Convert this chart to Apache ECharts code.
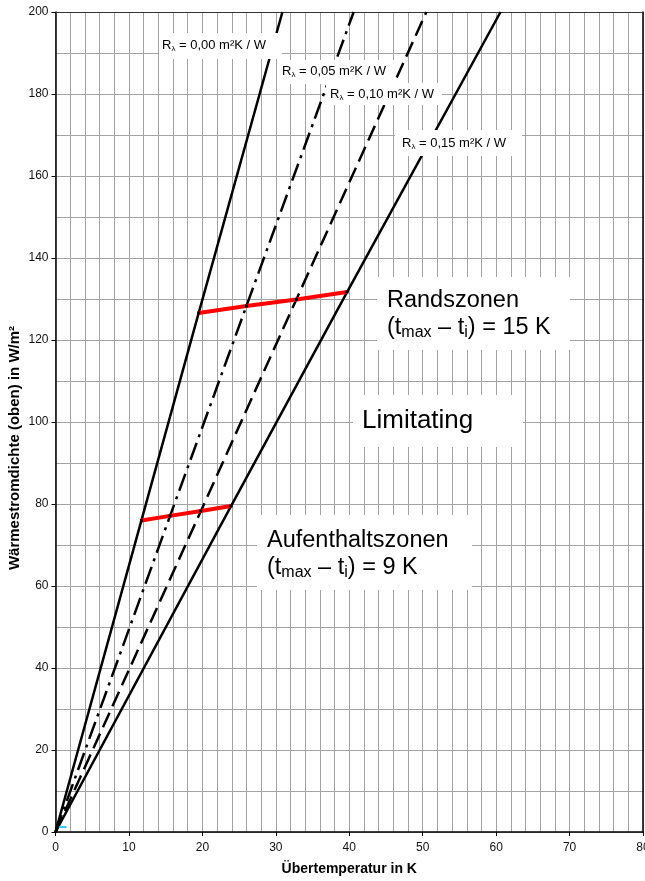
<!DOCTYPE html>
<html>
<head>
<meta charset="utf-8">
<title>Wärmestromdichte</title>
<script src="https://cdn.jsdelivr.net/npm/echarts@6/dist/echarts.min.js"></script>
<style>
  html, body { margin: 0; padding: 0; background: #fff; }
  #chart { width: 645px; height: 881px; }
</style>
</head>
<body>
<div id="chart"></div>
<script>
// Heat flux density vs. excess temperature for four floor covering resistances
const xTicks = [0, 10, 20, 30, 40, 50, 60, 70, 80];
const yTicks = [0, 20, 40, 60, 80, 100, 120, 140, 160, 180, 200];

// [Übertemperatur K, Wärmestromdichte W/m²]
const r000 = [[0, 0], [11.7, 76.0], [19.5, 126.6], [30.9, 200]];
const r005 = [[0, 0], [15.6, 77.1], [26.0, 128.3], [40.6, 200]];
const r010 = [[0, 0], [19.8, 78.3], [32.8, 129.9], [50.5, 200]];
const r015 = [[0, 0], [23.9, 79.5], [39.7, 131.7], [60.6, 200]];

// limit curves
const aufenthaltszonen = [[11.7, 76.0], [15.6, 77.1], [19.8, 78.3], [23.9, 79.5]];
const randszonen = [[19.5, 126.6], [26.0, 128.3], [32.8, 129.9], [39.7, 131.7]];

const startMark = [[0.5, 1.2], [1.5, 1.2]];

const FONT = '"Liberation Sans", Arial, sans-serif';

function blackLine(name, data, type) {
  return {
    name: name, type: 'line', data: data,
    showSymbol: false, symbol: 'none', animation: false, z: 3,
    lineStyle: { color: '#000', width: 2.5, type: type, cap: 'butt' }
  };
}

function redLine(name, data) {
  return {
    name: name, type: 'line', data: data, animation: false, z: 4,
    symbol: 'rect', symbolSize: 3, showSymbol: true,
    itemStyle: { color: '#000' },
    lineStyle: { color: '#ff0000', width: 4 }
  };
}

// label box: white rectangle plus (rich) text
function box(x, y, w, h, tx, ty, text, rich) {
  return {
    type: 'group', z: 100,
    children: [
      { type: 'rect', z: 100, shape: { x: x, y: y, width: w, height: h },
        style: { fill: '#fff', stroke: null } },
      { type: 'text', z: 101, x: tx, y: ty,
        style: { text: text, rich: rich, align: 'left', verticalAlign: 'middle', fontFamily: FONT } }
    ]
  };
}

const rRich = {
  r: { fontSize: 13, fontFamily: FONT, color: '#000', lineHeight: 15 },
  s: { fontSize: 8, fontFamily: FONT, color: '#000', lineHeight: 15, verticalAlign: 'bottom' }
};
const bigRich = {
  n: { fontSize: 23.5, fontFamily: FONT, color: '#ff0000', lineHeight: 27 },
  sub: { fontSize: 16, fontFamily: FONT, color: '#ff0000', lineHeight: 27, verticalAlign: 'bottom' }
};
const limRich = {
  n: { fontSize: 26, fontFamily: FONT, color: '#ff0000', lineHeight: 30 }
};

function rLabel(v) { return '{r|R}{s|λ}{r| = ' + v + ' m²K / W}'; }
function zoneLabel(name, k) {
  return '{n|' + name + '}\n{n|(t}{sub|max}{n| – t}{sub|i}{n|) = ' + k + ' K}';
}

const gridColor = '#a3a3a3';

const option = {
  backgroundColor: '#fff',
  animation: false,
  grid: { left: 55.5, right: 2, top: 12, bottom: 49, containLabel: false, outerBoundsMode: 'none' },
  xAxis: [{
    type: 'value', min: 0, max: 80, interval: 10,
    name: 'Übertemperatur in K', nameLocation: 'middle', nameGap: 30,
    nameTextStyle: { fontFamily: FONT, fontSize: 14, fontWeight: 'bold', color: '#000' },
    axisLine: { show: true, onZero: false, lineStyle: { color: '#000', width: 1.5 } },
    axisTick: { show: true, length: 4, lineStyle: { color: '#000' } },
    axisLabel: { fontFamily: FONT, fontSize: 12, color: '#111', margin: 10, hideOverlap: false,
      formatter: v => (xTicks.indexOf(v) >= 0 ? String(v) : '') },
    splitLine: { show: true, lineStyle: { color: gridColor, width: 1 } },
    minorTick: { show: false, splitNumber: 5 },
    minorSplitLine: { show: true, lineStyle: { color: gridColor, width: 1 } }
  }, {
    type: 'value', min: 0, max: 80, position: 'top',
    axisLine: { show: true, onZero: false, lineStyle: { color: '#333', width: 1 } },
    axisTick: { show: false }, axisLabel: { show: false }, splitLine: { show: false }
  }],
  yAxis: [{
    type: 'value', min: 0, max: 200, interval: 20,
    axisLine: { show: true, onZero: false, lineStyle: { color: '#000', width: 1.5 } },
    axisTick: { show: true, length: 4, lineStyle: { color: '#000' } },
    axisLabel: { fontFamily: FONT, fontSize: 12, color: '#111', margin: 7,
      formatter: v => (yTicks.indexOf(v) >= 0 ? String(v) : '') },
    splitLine: { show: true, lineStyle: { color: gridColor, width: 1 } },
    minorTick: { show: false, splitNumber: 2 },
    minorSplitLine: { show: true, lineStyle: { color: gridColor, width: 1 } }
  }, {
    type: 'value', min: 0, max: 200, position: 'right',
    axisLine: { show: true, onZero: false, lineStyle: { color: '#000', width: 1.5 } },
    axisTick: { show: false }, axisLabel: { show: false }, splitLine: { show: false }
  }],
  series: [
    blackLine('R 0,00', r000, 'solid'),
    blackLine('R 0,05', r005, [18, 6, 3, 6]),
    blackLine('R 0,10', r010, [16, 7]),
    blackLine('R 0,15', r015, 'solid'),
    redLine('Aufenthaltszonen', aufenthaltszonen),
    redLine('Randszonen', randszonen),
    {
      name: 'Start', type: 'line', data: startMark, symbol: 'none', animation: false, z: 5,
      lineStyle: { color: '#2ec8f0', width: 2 }
    }
  ],
  graphic: [
    box(159, 33, 123, 26, 162, 45, rLabel('0,00'), rRich),
    box(278, 60, 117, 24, 282, 71, rLabel('0,05'), rRich),
    box(326, 83, 116, 22, 330, 94, rLabel('0,10'), rRich),
    box(395, 130, 127, 26, 402, 143, rLabel('0,15'), rRich),
    box(377, 277, 193, 73, 387, 314, zoneLabel('Randszonen', 15), bigRich),
    box(353, 395, 170, 52, 362, 421, '{n|Limitating}', limRich),
    box(257, 515, 215, 75, 267, 554, zoneLabel('Aufenthaltszonen', 9), bigRich),
    // y-axis title
    { type: 'text', z: 50, x: 15, y: 448, rotation: Math.PI / 2,
      style: { text: 'Wärmestromdichte (oben) in W/m²', align: 'center', verticalAlign: 'middle',
        fontFamily: FONT, fontSize: 15, fontWeight: 'bold', fill: '#000' } }
  ]
};

const chart = echarts.init(document.getElementById('chart'), null, { renderer: 'canvas' });
chart.setOption(option);
</script>
</body>
</html>
